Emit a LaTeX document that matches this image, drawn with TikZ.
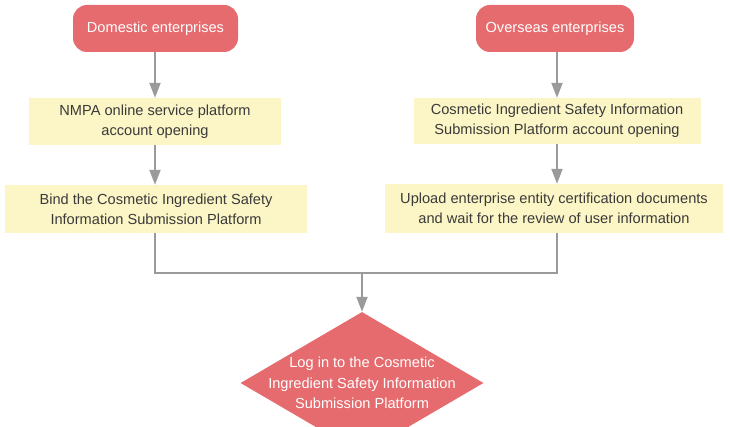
\documentclass[tikz,border=0pt]{standalone}
\usepackage{fontspec}
\setmainfont{Liberation Sans}
\usetikzlibrary{shapes.geometric,arrows.meta}
\definecolor{pillred}{HTML}{E56B6E}
\definecolor{boxyellow}{HTML}{FCF5C6}
\definecolor{linegray}{HTML}{9A9A9A}
\definecolor{textgray}{HTML}{3A3A3A}
\begin{document}
\begin{tikzpicture}[x=1pt,y=1pt,
  pill/.style={fill=pillred,rounded corners=14pt,text=white,inner sep=0pt,
    minimum height=47pt,font=\fontsize{14.6}{20}\selectfont},
  stepbox/.style={fill=boxyellow,text=textgray,inner sep=0pt,align=center,
    font=\fontsize{14.6}{20}\selectfont},
  flow/.style={draw=linegray,line width=2pt,-{Triangle[length=15pt,width=11pt]}},
  plain/.style={draw=linegray,line width=2pt}]
\useasboundingbox (0,0) rectangle (730,426);
\clip (0,0) rectangle (730,426);
\node[pill,minimum width=165pt] (dom) at (155.5,397.5) {Domestic enterprises};
\node[pill,minimum width=158pt] (ovs) at (555,397.5) {Overseas enterprises};
\node[stepbox,minimum width=252pt,minimum height=47pt] (nmpa) at (155,304.5)
  {NMPA online service platform\\account opening};
\node[stepbox,minimum width=287pt,minimum height=46pt] (cos) at (557,305)
  {Cosmetic Ingredient Safety Information\\Submission Platform account opening};
\node[stepbox,minimum width=302pt,minimum height=48pt] (bind) at (156,217)
  {Bind the Cosmetic Ingredient Safety\\Information Submission Platform};
\node[stepbox,minimum width=338pt,minimum height=49pt] (upl) at (554,217.5)
  {Upload enterprise entity certification documents\\and wait for the review of user information};
\node[diamond,fill=pillred,inner sep=0pt,minimum width=243pt,minimum height=142pt] (login) at (362,43) {};
\node[text=white,align=center,font=\fontsize{14.6}{20.5}\selectfont] (logintxt) at (362,43)
  {Log in to the Cosmetic\\Ingredient Safety Information\\Submission Platform};
\coordinate (j) at (362,153);
\draw[flow] (dom.south -| 155,0) -- (nmpa.north -| 155,0);
\draw[flow] (nmpa.south -| 155,0) -- (bind.north -| 155,0);
\draw[flow] (ovs.south -| 557,0) -- (cos.north -| 557,0);
\draw[flow] (cos.south -| 557,0) -- (upl.north -| 557,0);
\draw[plain] (bind.south -| 155,0) |- (j) -| (upl.south -| 557,0);
\draw[flow] (j) -- (login.north);
\end{tikzpicture}
\end{document}
